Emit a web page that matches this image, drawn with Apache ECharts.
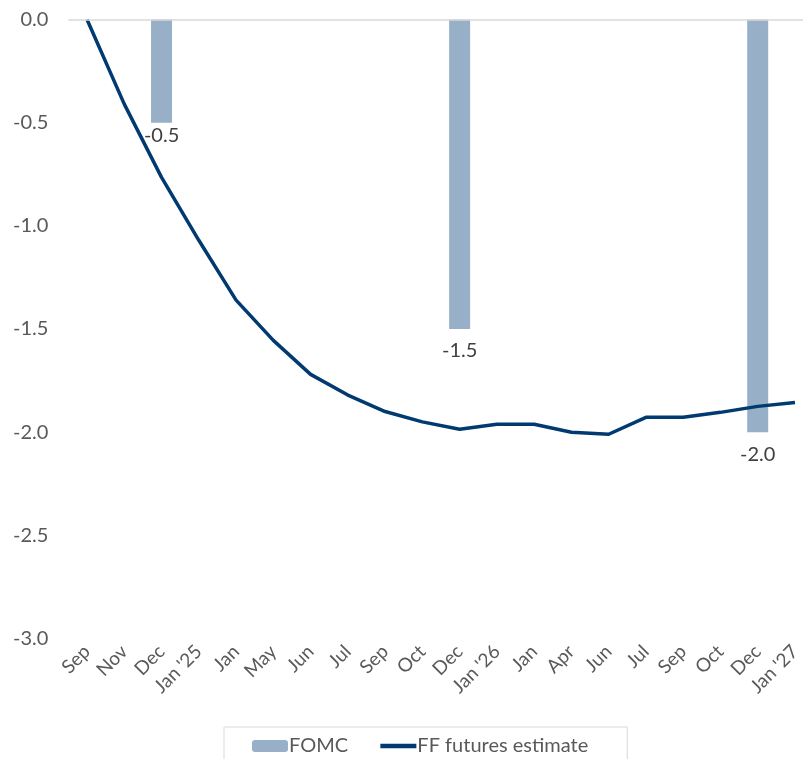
<!DOCTYPE html>
<html>
<head>
<meta charset="utf-8">
<script src="https://cdn.jsdelivr.net/npm/echarts@6/dist/echarts.min.js"></script>
<style>
  html, body { margin: 0; padding: 0; background: #fff; }
  #chart { width: 803px; height: 759px; }
</style>
</head>
<body>
<div id="chart"></div>
<script>
// x labels as printed on the chart
const categories = ['Sep', 'Nov', 'Dec', "Jan '25", 'Jan', 'May', 'Jun', 'Jul', 'Sep', 'Oct',
  'Dec', "Jan '26", 'Jan', 'Apr', 'Jun', 'Jul', 'Sep', 'Oct', 'Dec', "Jan '27"]

// FOMC bars (only a few meetings)
const fomc = [null, null, -0.5, null, null, null, null, null, null, null,
  -1.5, null, null, null, null, null, null, null, -2.0, null]

// FF futures estimate
const ffFutures = [0.0, -0.41, -0.765, -1.07, -1.36, -1.555, -1.72, -1.82, -1.90, -1.95,
  -1.986, -1.962, -1.962, -2.0, -2.01, -1.928, -1.928, -1.904, -1.875, -1.856]

const yTicks = { min: -3, max: 0, interval: 0.5 }

const chart = echarts.init(document.getElementById('chart'))

// first label sits a bit closer to its bar
const fomcData = fomc.map((v, i) => i === 2 ? { value: v, label: { distance: 3 } } : v)

chart.setOption({
  animation: false,
  textStyle: { fontFamily: 'Lato' },
  grid: {
    left: 68.4,
    top: 19.5,
    width: 745.2,
    height: 619,
    outerBoundsMode: 'none'
  },
  legend: {
    left: 224,
    top: 727,
    padding: [9, 39, 12, 28],
    borderColor: '#d9d9d9',
    borderWidth: 1,
    itemWidth: 36,
    itemHeight: 12,
    itemGap: 30,
    textStyle: { fontSize: 20, color: '#595959', padding: [0, 0, 0, -4] },
    data: [
      { name: 'FOMC' },
      // hide the dot that ECharts puts on a line legend icon
      { name: 'FF futures estimate', itemStyle: { opacity: 0 }, lineStyle: { width: 4.5 } }
    ]
  },
  xAxis: {
    type: 'category',
    data: categories,
    boundaryGap: true,
    axisLine: { show: false },
    axisTick: { show: false },
    axisLabel: {
      rotate: 45,
      interval: 0,
      fontSize: 19,
      color: '#595959',
      margin: 10
    }
  },
  yAxis: {
    type: 'value',
    min: yTicks.min,
    max: yTicks.max,
    interval: yTicks.interval,
    splitLine: { show: false },
    axisLine: { show: false },
    axisTick: { show: false },
    axisLabel: {
      fontSize: 20,
      color: '#595959',
      margin: 20,
      formatter: v => v.toFixed(1)
    }
  },
  series: [
    {
      name: 'FOMC',
      type: 'bar',
      data: fomcData,
      barWidth: 21,
      itemStyle: { color: '#97b0c8' },
      label: {
        show: true,
        position: 'bottom',
        distance: 12,
        fontSize: 20,
        color: '#404040',
        formatter: p => p.value.toFixed(1)
      },
      markLine: {
        silent: true,
        symbol: 'none',
        label: { show: false },
        lineStyle: { color: '#d9d9d9', width: 1.5, type: 'solid' },
        data: [{ yAxis: 0 }]
      },
      z: 2
    },
    {
      name: 'FF futures estimate',
      type: 'line',
      data: ffFutures,
      symbol: 'none',
      lineStyle: { color: '#003a70', width: 3.5 },
      itemStyle: { color: '#003a70' },
      z: 3
    }
  ]
})
</script>
</body>
</html>
